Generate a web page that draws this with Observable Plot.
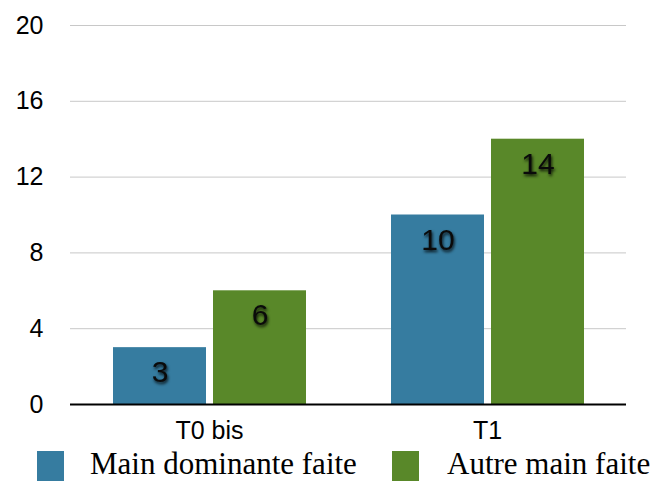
<!DOCTYPE html>
<html>
<head>
<meta charset="utf-8">
<script src="https://cdn.jsdelivr.net/npm/d3@7"></script>
<script src="https://cdn.jsdelivr.net/npm/@observablehq/plot@0.6"></script>
<style>
  html, body { margin: 0; padding: 0; background: #fff; }
  #chart svg { display: block; }
  #legend { position: relative; height: 33px; font-family: "Liberation Serif", "Times New Roman", serif; font-size: 31px; color: #000; }
  .sw { position: absolute; top: 3px; width: 27px; height: 30px; }
  .lab { position: absolute; top: 1px; line-height: 29px; white-space: nowrap; }
</style>
</head>
<body>
<div id="chart"></div>
<div id="legend"></div>
<script>
const categories = ["T0 bis", "T1"];
const seriesNames = ["Main dominante faite", "Autre main faite"];
const mainDominante = [3, 10];
const autreMain = [6, 14];
const yTicks = [0, 4, 8, 12, 16, 20];
const colors = ["#367ca0", "#598829"];

const data = categories.flatMap((c, i) => [
  {cat: c, series: seriesNames[0], value: mainDominante[i]},
  {cat: c, series: seriesNames[1], value: autreMain[i]}
]);

const chart = Plot.plot({
  width: 658,
  height: 448,
  marginLeft: 69,
  marginRight: 32,
  marginTop: 25,
  marginBottom: 44,
  style: {fontFamily: "'Liberation Sans', Arial, sans-serif", fontSize: "25px", color: "#000", background: "#fff"},
  fx: {domain: categories, paddingInner: 0, paddingOuter: 0, label: null},
  x: {domain: seriesNames, paddingInner: 0.07, paddingOuter: 0.42, axis: null},
  y: {domain: [0, 20], axis: null},
  color: {domain: seriesNames, range: colors},
  marks: [
    Plot.ruleY(yTicks.slice(1), {stroke: "#c8c8c8", strokeWidth: 1}),
    Plot.barY(data, {fx: "cat", x: "series", y: "value", fill: "series"}),
    Plot.ruleY([0], {stroke: "#000", strokeWidth: 2}),
    Plot.text(data, {fx: "cat", x: "series", y: "value", text: d => String(d.value), dy: 25, fontSize: 30, fill: "#0a0a0a"}),
    Plot.axisY(yTicks, {anchor: "left", tickSize: 0, tickPadding: 27, label: null, fontSize: 25}),
    Plot.axisFx({anchor: "bottom", tickSize: 0, tickPadding: 17, label: null, fontSize: 25})
  ]
});

d3.select(chart).selectAll('g[aria-label="text"]').style("filter", "drop-shadow(1px 2px 1.5px rgba(0,0,0,0.85))");
document.getElementById("chart").appendChild(chart);

const legend = d3.select("#legend");
const swX = [37, 392];
const labX = [90, 447];
seriesNames.forEach((s, i) => {
  legend.append("div").attr("class", "sw").style("left", swX[i] + "px").style("background", colors[i]);
  legend.append("div").attr("class", "lab").style("left", labX[i] + "px").text(s);
});
</script>
</body>
</html>
